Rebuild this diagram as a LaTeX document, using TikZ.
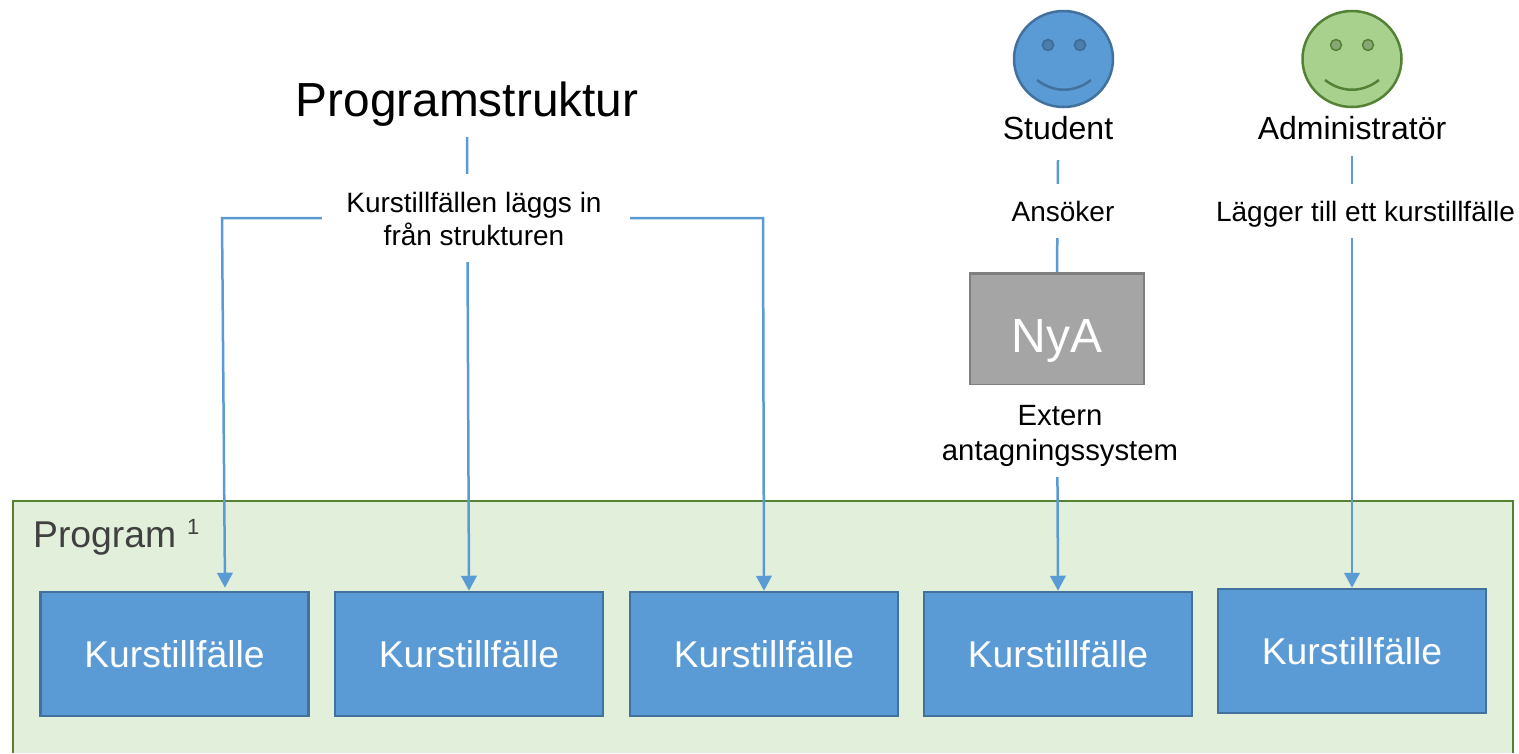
\documentclass[tikz,border=0pt]{standalone}
\usepackage{fontspec}
\setmainfont{Liberation Sans}
\usetikzlibrary{arrows.meta,calc,shapes.geometric}
\definecolor{blueF}{HTML}{5B9BD5}
\definecolor{blueD}{HTML}{41719C}
\definecolor{blueE}{HTML}{4A7EAE}
\definecolor{greenF}{HTML}{A9D18E}
\definecolor{greenD}{HTML}{548235}
\definecolor{greenE}{HTML}{87A772}
\definecolor{grayF}{HTML}{A5A5A5}
\definecolor{grayD}{HTML}{7F7F7F}
\definecolor{paleG}{HTML}{E2EFDA}
\definecolor{progT}{HTML}{404040}
\newcommand{\fs}[1]{\fontsize{#1pt}{1.2\dimexpr#1pt\relax}\selectfont}
\tikzset{
  x=1pt,y=-1pt,
  kurs/.style={draw=blueD,fill=blueF,line width=2.5pt,text=white,minimum width=268pt,minimum height=124pt,inner sep=0pt,font=\fs{37.3}},
  wire/.style={draw=blueF,line width=2.5pt},
  arrowwire/.style={wire,-{Triangle[length=15pt,width=15.5pt]}},
  whitelabel/.style={fill=white,inner sep=0pt,align=center,font=\fs{28},text=black},
  labeltext/.style={inner sep=0pt,align=center,font=\fs{28},text=black},
  actor/.style={inner sep=0pt,font=\fs{32},text=black},
  face/.style={ellipse,minimum width=99pt,minimum height=96pt,inner sep=0pt,line width=2.5pt},
  eye/.style={circle,minimum size=11pt,inner sep=0pt,line width=1.5pt},
}
\begin{document}
\begin{tikzpicture}
\useasboundingbox (0,0) rectangle (1519,753);
% program container
\fill[paleG] (13,753) -- (13,501) -- (1513,501) -- (1513,753) -- cycle;
\draw[greenD,line width=2.5pt] (13,753) -- (13,501) -- (1513,501) -- (1513,753);
\node[anchor=west,inner sep=0pt,text=progT,font=\fs{37.3}] (prog) at (33,539) {Program};
\node[anchor=west,inner sep=0pt,text=progT,font=\fs{22}] (progsup) at (187,527) {1};
% course boxes
\node[kurs] (k1) at (174.5,654) {\raisebox{-1pt}{Kurstillfälle}};
\node[kurs] (k2) at (469,654) {\raisebox{-1pt}{Kurstillfälle}};
\node[kurs] (k3) at (764,654) {\raisebox{-1pt}{Kurstillfälle}};
\node[kurs] (k4) at (1058,654) {\raisebox{-1pt}{Kurstillfälle}};
\node[kurs] (k5) at (1352,651) {\raisebox{-1pt}{Kurstillfälle}};
% headings
\node[inner sep=0pt,font=\fs{47.8},text=black,minimum height=66pt] (ps) at (467,104) {Programstruktur};
\node[actor,minimum height=64pt] (stu) at (1058,128) {Student};
\node[actor,minimum height=56pt] (adm) at (1352,128) {Administratör};
% NyA
\node[draw=grayD,fill=grayF,line width=2.5pt,text=white,font=\fs{48},minimum width=174pt,minimum height=112pt,inner sep=0pt] (nya) at (1057,329.5) {\raisebox{-22.5pt}[0pt][0pt]{NyA}};
% connectors
\coordinate (cl) at (222,218);
\coordinate (cr) at (763,218);
\draw[arrowwire] (ps.south) -- (k2.north);
\draw[arrowwire] (476,218) -- (cl) -- ([xshift=50.5pt,yshift=3pt]k1.north);
\draw[arrowwire] (476,218) -- (cr) -- (k3.north);
\draw[wire] (stu.south) -- (nya.north);
\draw[arrowwire] (nya.south) -- (k4.north);
\draw[arrowwire] (adm.south) -- (k5.north);
% labels on top of the connectors
\node[whitelabel,minimum width=308pt,minimum height=88pt] (lab1) at (476,218) {};
\node[labeltext] (lab1t) at (474,219) {Kurstillfällen läggs in\\från strukturen};
\node[whitelabel,minimum width=120pt,minimum height=54pt] (lab2) at (1063,211) {Ansöker};
\node[whitelabel,minimum width=299pt,minimum height=54pt] (lab3) at (1365.5,211) {\raisebox{-10pt}[0pt][0pt]{Lägger till ett kurstillfälle}};
\node[whitelabel,minimum width=250pt,minimum height=92pt] (lab4) at (1060,431) {};
\node[labeltext,font=\fs{29.3}] (lab4t) at (1060,436) {Extern\\antagningssystem};
% faces
\node[face,draw=blueD,fill=blueF] (f1) at (1063.5,59) {};
\node[eye,draw=blueE!85!black,fill=blueE] (f1l) at (1048,45) {};
\node[eye,draw=blueE!85!black,fill=blueE] (f1r) at (1080,45) {};
\draw[blueD,line width=2.5pt] (1037,80) .. controls (1054,93) and (1074,93) .. (1091,80);
\node[face,draw=greenD,fill=greenF] (f2) at (1352,59) {};
\node[eye,draw=greenD,fill=greenE] (f2l) at (1336,45) {};
\node[eye,draw=greenD,fill=greenE] (f2r) at (1368,45) {};
\draw[greenD,line width=2.5pt] (1325,80) .. controls (1342,93) and (1362,93) .. (1379,80);
\end{tikzpicture}
\end{document}
